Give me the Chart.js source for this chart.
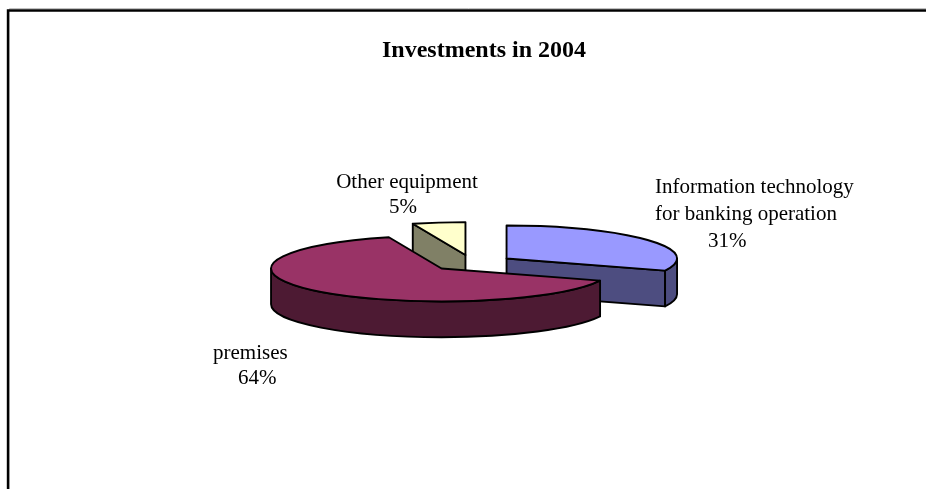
<!DOCTYPE html>
<html>
<head>
<meta charset="utf-8">
<script src="https://cdn.jsdelivr.net/npm/chart.js@4/dist/chart.umd.min.js"></script>
<style>
  body { margin: 0; background: #ffffff; }
  canvas { display: block; }
</style>
</head>
<body>
<canvas id="investments" width="926" height="489"></canvas>
<script>
// Chart data
const categories = ["Information technology for banking operation", "premises", "Other equipment"];
const shares = [31, 64, 5];
const labelLines = [
  ["Information technology", "for banking operation"],
  ["premises"],
  ["Other equipment"],
];
const chartTitle = "Investments in 2004";

// Colours (top face / side face)
const topColors = ["#9999FF", "#993366", "#FFFFCC"];
const sideColors = ["#4D4D80", "#4D1A33", "#808066"];

// 3D look
const TILT = 0.193; // vertical squash of the pie
const DEPTH = 0.21; // thickness, as part of the radius
const EXPLODE = 0.245; // how far each slice is pulled out

// where the labels sit (text only)
const labelPlaces = [
  { lines: [[655, 193, "left"], [655, 220, "left"]], pct: [708, 247, "left"] },
  { lines: [[213, 359, "left"]], pct: [238, 384, "left"] },
  { lines: [[407, 188, "center"]], pct: [403, 213, "center"] },
];

const pie3d = {
  id: "pie3d",
  beforeDraw(chart) {
    const ctx = chart.ctx;
    ctx.save();
    ctx.fillStyle = "#ffffff";
    ctx.fillRect(0, 0, chart.width, chart.height);
    // frame, cut by the right and bottom edges
    ctx.strokeStyle = "#c0c0c0";
    ctx.lineWidth = 1;
    ctx.beginPath();
    ctx.moveTo(9.5, chart.height + 5);
    ctx.lineTo(9.5, 8.5);
    ctx.lineTo(chart.width + 5, 8.5);
    ctx.stroke();
    ctx.strokeStyle = "#000000";
    ctx.lineWidth = 2.4;
    ctx.beginPath();
    ctx.moveTo(8, chart.height + 5);
    ctx.lineTo(8, 10.5);
    ctx.lineTo(chart.width + 5, 10.5);
    ctx.stroke();
    ctx.restore();
  },
  beforeDatasetsDraw(chart) {
    const ctx = chart.ctx;
    const arcs = chart.getDatasetMeta(0).data;
    const slices = arcs.map((a, i) => {
      const R = a.outerRadius;
      const mid = (a.startAngle + a.endAngle) / 2;
      return {
        i: i,
        s: a.startAngle,
        e: a.endAngle,
        R: R,
        ry: R * TILT,
        d: R * DEPTH,
        x: a.x + Math.cos(mid) * R * EXPLODE,
        y: a.y + Math.sin(mid) * R * TILT * EXPLODE,
      };
    });

    ctx.save();
    ctx.lineWidth = 1.9;
    ctx.lineJoin = "round";
    ctx.strokeStyle = "#000000";

    function radialFace(sl, ang) {
      const px = sl.x + Math.cos(ang) * sl.R;
      const py = sl.y + Math.sin(ang) * sl.ry;
      ctx.beginPath();
      ctx.moveTo(sl.x, sl.y);
      ctx.lineTo(px, py);
      ctx.lineTo(px, py + sl.d);
      ctx.lineTo(sl.x, sl.y + sl.d);
      ctx.closePath();
      ctx.fillStyle = sideColors[sl.i];
      ctx.fill();
      ctx.stroke();
    }

    // side walls, back to front
    const order = slices.slice().sort((p, q) => p.y - q.y);
    order.forEach((sl) => {
      if (Math.cos(sl.s) < -1e-6) radialFace(sl, sl.s);
      if (Math.cos(sl.e) > 1e-6) radialFace(sl, sl.e);
      const a0 = Math.max(sl.s, 0);
      const a1 = Math.min(sl.e, Math.PI);
      if (a1 > a0) {
        ctx.beginPath();
        ctx.ellipse(sl.x, sl.y, sl.R, sl.ry, 0, a0, a1);
        ctx.lineTo(sl.x + Math.cos(a1) * sl.R, sl.y + Math.sin(a1) * sl.ry + sl.d);
        ctx.ellipse(sl.x, sl.y + sl.d, sl.R, sl.ry, 0, a1, a0, true);
        ctx.closePath();
        ctx.fillStyle = sideColors[sl.i];
        ctx.fill();
        ctx.stroke();
      }
    });

    // top faces
    slices.forEach((sl) => {
      ctx.beginPath();
      ctx.moveTo(sl.x, sl.y);
      ctx.ellipse(sl.x, sl.y, sl.R, sl.ry, 0, sl.s, sl.e);
      ctx.closePath();
      ctx.fillStyle = topColors[sl.i];
      ctx.fill();
      ctx.stroke();
    });
    ctx.restore();
    return false;
  },
  afterDraw(chart) {
    const ctx = chart.ctx;
    ctx.save();
    ctx.fillStyle = "#000000";
    ctx.textBaseline = "alphabetic";
    ctx.font = "bold 24px 'Liberation Serif'";
    ctx.textAlign = "center";
    ctx.fillText(chartTitle, 484, 57);

    ctx.font = "21px 'Liberation Serif'";
    const total = shares.reduce((a, b) => a + b, 0);
    labelPlaces.forEach((place, i) => {
      place.lines.forEach((ln, j) => {
        ctx.textAlign = ln[2];
        ctx.fillText(labelLines[i][j], ln[0], ln[1]);
      });
      ctx.textAlign = place.pct[2];
      ctx.fillText(Math.round((shares[i] / total) * 100) + "%", place.pct[0], place.pct[1]);
    });
    ctx.restore();
  },
};

new Chart(document.getElementById("investments"), {
  type: "pie",
  data: {
    labels: categories,
    datasets: [
      {
        data: shares,
        backgroundColor: topColors,
        borderColor: "#000000",
        borderWidth: 1,
      },
    ],
  },
  options: {
    responsive: false,
    animation: false,
    layout: {
      padding: { left: 301, right: 283, top: 92, bottom: 55 },
    },
    plugins: {
      legend: { display: false },
      title: { display: false },
      tooltip: { enabled: false },
    },
  },
  plugins: [pie3d],
});
</script>
</body>
</html>
